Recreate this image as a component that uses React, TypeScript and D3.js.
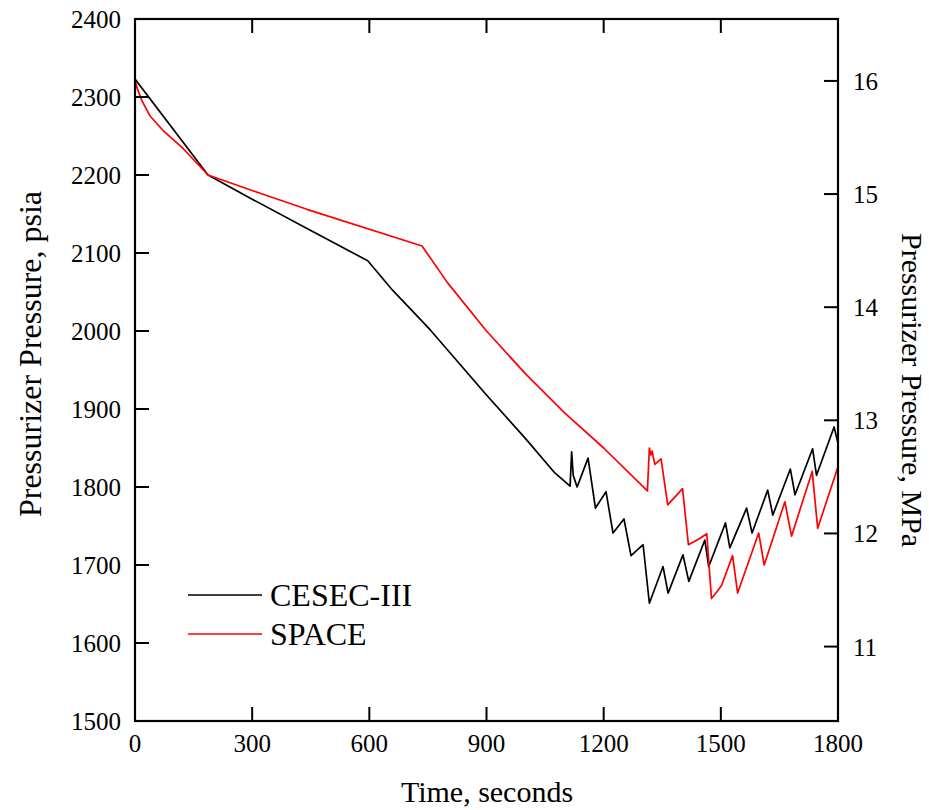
import React from "react";
import * as d3 from "d3";

const cesecTime = [0, 187, 300, 450, 596, 660, 755, 900, 1000, 1075, 1114, 1118, 1122, 1132, 1160, 1179, 1206, 1224, 1252, 1270, 1301, 1317, 1352, 1365, 1403, 1418, 1459, 1469, 1512, 1523, 1566, 1580, 1620, 1633, 1678, 1690, 1735, 1745, 1790, 1800];
const cesecPsia = [2323, 2200, 2169, 2129, 2090, 2052, 2002, 1918, 1862, 1818, 1801, 1845, 1815, 1800, 1837, 1773, 1794, 1741, 1759, 1712, 1726, 1651, 1698, 1664, 1713, 1679, 1732, 1698, 1754, 1722, 1773, 1741, 1796, 1764, 1823, 1790, 1849, 1815, 1877, 1856];

const spaceTime = [0, 5, 17, 38, 72, 123, 187, 341, 440, 735, 800, 900, 1000, 1100, 1200, 1312, 1317, 1321, 1324, 1331, 1347, 1364, 1402, 1417, 1446, 1464, 1476, 1489, 1502, 1530, 1543, 1597, 1611, 1664, 1681, 1734, 1748, 1800];
const spacePsia = [2322, 2312, 2296, 2276, 2257, 2234, 2200, 2173, 2156, 2109, 2062, 2000, 1945, 1895, 1850, 1795, 1850, 1841, 1846, 1829, 1836, 1777, 1798, 1726, 1734, 1740, 1657, 1665, 1674, 1712, 1664, 1741, 1700, 1781, 1737, 1820, 1747, 1826];

const xTicks = [0, 300, 600, 900, 1200, 1500, 1800];
const yTicks = [1500, 1600, 1700, 1800, 1900, 2000, 2100, 2200, 2300, 2400];
const mpaTicks = [11, 12, 13, 14, 15, 16];
const PSI_PER_MPA = 145.038;

const seriesNames = ["CESEC-III", "SPACE"];
const seriesColors = ["#000000", "#ff0000"];

export default function App() {
  const left = 135, right = 838, top = 19, bottom = 721;
  const x = d3.scaleLinear().domain([0, 1800]).range([left, right]);
  const y = d3.scaleLinear().domain([1500, 2400]).range([bottom, top]);
  const line = d3.line<[number, number]>().x(d => x(d[0])).y(d => y(d[1]));
  const cesec = cesecTime.map((t, i) => [t, cesecPsia[i]] as [number, number]);
  const space = spaceTime.map((t, i) => [t, spacePsia[i]] as [number, number]);
  const font = "'Liberation Serif', 'Times New Roman', serif";
  const tl = 14;

  return (
    <svg width={929} height={810} style={{ position: "absolute", left: 0, top: 0, background: "#fff" }} fontFamily={font}>
      <defs>
        <clipPath id="plot"><rect x={left} y={top} width={right - left} height={bottom - top} /></clipPath>
      </defs>
      <g clipPath="url(#plot)" fill="none" strokeWidth={1.7} strokeLinejoin="round">
        <path d={line(cesec) || ""} stroke={seriesColors[0]} />
        <path d={line(space) || ""} stroke={seriesColors[1]} />
      </g>
      <rect x={left} y={top} width={right - left} height={bottom - top} fill="none" stroke="#000" strokeWidth={2.2} />
      {xTicks.map(t => (
        <g key={"x" + t}>
          <line x1={x(t)} x2={x(t)} y1={bottom} y2={bottom - tl} stroke="#000" strokeWidth={2} />
          <line x1={x(t)} x2={x(t)} y1={top} y2={top + tl} stroke="#000" strokeWidth={2} />
          <text x={x(t)} y={752} textAnchor="middle" fontSize={25}>{t}</text>
        </g>
      ))}
      {yTicks.map(v => (
        <g key={"y" + v}>
          <line x1={left} x2={left + tl} y1={y(v)} y2={y(v)} stroke="#000" strokeWidth={2} />
          <text x={121} y={y(v) + 9} textAnchor="end" fontSize={25}>{v}</text>
        </g>
      ))}
      {mpaTicks.map(m => (
        <g key={"m" + m}>
          <line x1={right} x2={right - tl} y1={y(m * PSI_PER_MPA)} y2={y(m * PSI_PER_MPA)} stroke="#000" strokeWidth={2} />
          <text x={853} y={y(m * PSI_PER_MPA) + 9} textAnchor="start" fontSize={25}>{m}</text>
        </g>
      ))}
      <text transform={`translate(41,354) rotate(-90)`} textAnchor="middle" fontSize={32}>Pressurizer Pressure, psia</text>
      <text transform={`translate(902,390) rotate(90)`} textAnchor="middle" fontSize={30}>Pressurizer Pressure, MPa</text>
      <text x={487} y={802} textAnchor="middle" fontSize={30}>Time, seconds</text>
      {seriesNames.map((n, i) => (
        <g key={n}>
          <line x1={188} x2={262} y1={595 + i * 39} y2={595 + i * 39} stroke={seriesColors[i]} strokeWidth={1.7} />
          <text x={270} y={606 + i * 39} fontSize={32}>{n}</text>
        </g>
      ))}
    </svg>
  );
}
